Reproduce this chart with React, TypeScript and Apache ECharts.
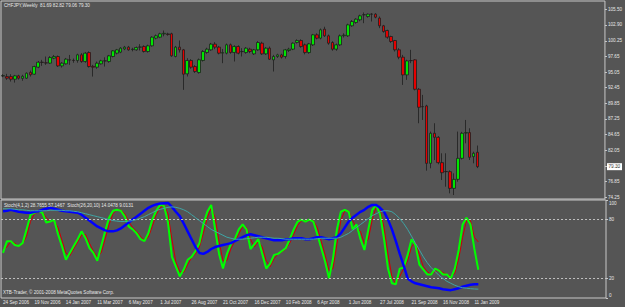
import React, { useEffect, useRef } from 'react';
import * as echarts from 'echarts';

const opens = [94.40,94.30,94.30,93.86,94.42,94.00,94.03,95.00,94.70,95.86,96.70,96.60,96.53,97.36,97.64,96.08,96.42,97.10,97.00,96.97,97.92,96.80,98.30,96.00,95.86,96.42,96.92,96.80,97.64,98.20,98.36,98.90,99.20,98.80,98.75,99.20,99.31,98.47,99.42,100.70,100.86,101.40,101.40,101.42,97.64,99.20,98.75,94.75,96.98,95.97,94.97,96.98,98.31,98.75,99.70,99.20,98.20,98.20,99.59,98.31,99.31,98.45,98.30,98.86,98.08,98.75,99.86,98.08,99.03,97.08,97.64,97.91,97.64,98.64,98.86,99.97,100.30,99.58,98.30,99.58,101.25,100.69,102.19,101.08,99.97,98.86,99.58,101.10,101.08,102.75,103.30,103.75,104.60,104.30,104.69,104.69,104.03,102.75,101.97,100.97,100.30,98.75,97.53,94.58,96.97,97.08,92.19,89.30,89.41,79.86,84.86,84.19,79.97,78.50,78.47,75.69,77.19,80.69,84.90,84.97,80.97,81.69];
const highs = [94.70,94.75,94.69,94.58,94.60,94.60,95.00,95.30,96.10,96.90,97.08,97.64,97.70,97.90,97.80,96.70,97.40,97.90,97.30,98.10,98.20,98.40,98.50,96.25,96.80,97.10,97.50,97.90,98.70,98.90,99.20,99.40,99.40,99.10,99.30,99.70,99.50,99.60,101.00,101.30,101.60,101.97,101.60,101.60,99.40,100.31,98.90,97.36,97.20,96.20,97.30,98.70,99.10,99.90,100.03,99.40,98.90,99.80,99.80,99.50,99.50,99.03,99.20,99.10,98.90,100.20,100.10,99.20,99.30,97.91,98.10,98.10,98.90,99.10,100.00,100.50,100.50,99.80,99.90,101.40,101.50,102.30,102.60,101.30,100.20,99.80,101.30,101.50,103.10,103.70,104.00,104.60,104.97,104.80,104.86,104.86,104.30,102.90,102.10,101.10,100.40,99.03,97.91,97.10,98.75,97.20,92.40,91.25,89.60,85.14,86.53,84.40,81.53,81.53,78.70,78.19,85.14,85.10,87.08,85.69,81.80,82.82];
const lows = [94.20,93.75,93.47,93.30,93.80,93.60,93.90,94.30,94.60,95.70,96.08,96.25,96.40,97.20,95.90,95.80,96.30,96.25,96.60,96.60,96.60,96.60,95.80,94.30,95.60,96.30,95.97,96.60,97.50,98.00,98.20,98.70,98.60,98.50,98.60,98.64,98.30,98.30,99.30,100.50,100.70,101.00,101.10,97.60,97.50,98.30,92.09,94.31,95.60,94.90,94.80,96.80,98.10,98.60,98.86,98.00,96.53,98.00,98.10,96.81,98.00,97.64,98.10,98.20,97.90,98.60,97.90,97.90,97.08,95.14,97.40,97.30,97.30,98.40,98.70,99.80,99.10,98.00,98.10,99.40,100.50,100.50,100.90,99.60,98.60,98.60,99.40,100.80,100.90,102.60,103.10,103.50,103.19,104.10,103.47,104.00,102.36,101.60,100.60,99.90,98.47,97.19,92.91,93.75,96.53,92.00,86.53,87.08,78.64,79.03,80.41,79.70,77.08,75.97,74.86,74.58,76.80,80.50,83.19,80.41,79.86,79.06];
const closes = [94.45,94.03,93.86,94.42,94.03,94.35,94.86,94.60,95.97,96.69,96.65,96.55,97.47,97.64,96.08,96.53,97.20,97.05,96.98,97.92,96.80,98.20,95.97,95.86,96.53,96.92,96.90,97.75,98.58,98.75,99.03,99.20,98.75,98.86,99.14,99.22,98.47,99.42,100.86,101.09,101.42,101.50,101.30,97.75,99.20,98.75,94.70,96.98,95.86,95.14,97.09,98.47,98.86,99.70,99.20,98.20,98.30,99.59,98.31,99.31,98.20,98.47,99.03,98.47,98.75,99.97,98.08,99.03,97.19,97.64,97.91,97.53,98.75,98.86,99.86,100.30,99.30,98.30,99.75,101.25,100.69,102.08,101.08,99.86,98.86,99.58,101.08,101.20,102.91,103.47,103.86,104.41,104.58,104.69,104.68,104.19,102.75,101.80,100.86,100.14,98.75,97.53,94.58,96.91,96.95,92.19,89.19,89.28,79.86,84.86,84.19,79.97,78.30,78.47,75.69,77.19,80.69,84.86,84.97,80.86,81.53,79.30];

const stochFast = [46,58,58,54,53,56,70,85,87,89,87,77,78,80,65,53,39,46,53,60,68,61,51,46,38,53,68,82,89,90,89,83,73,70,66,60,58,66,80,89,95,94,77,42,32,22,29,39,42,48,56,75,88,95,70,45,30,45,55,60,70,75,70,50,55,60,45,30,35,44,45,48,51,60,70,78,80,78,80,78,65,51,37,20,40,70,88,90,88,70,75,60,49,70,90,95,85,60,30,15,14,30,31,44,60,54,34,29,24,24,30,28,24,24,20,30,49,75,82,75,50,28.77];
const stochFastSignal = [50,52,58,56,53,55,63,78,86,88,88,82,78,79,72,59,46,43,50,57,64,65,56,48,42,46,60,75,86,90,90,86,78,72,68,63,59,62,73,85,92,95,86,60,37,27,26,34,41,45,52,66,82,92,82,58,38,38,50,58,65,73,72,60,52,58,52,38,32,40,45,47,50,56,65,74,79,79,79,79,72,58,44,28,30,55,79,89,89,79,72,68,55,60,80,93,90,72,45,22,14,22,30,38,52,57,44,32,27,24,27,29,26,24,22,25,40,62,79,79,62,57.15];
const stochSlow = [88.6,89,90,89,88,87.5,87,87,88,88.5,90,91,92,91,90,89,88.5,88,87.5,87,85,82,79,76,73,71,69,68,68,69,71,74,77,80,83,86,89,92,94,95.5,96.4,96.8,97,93,88,83.5,76,68,60,52,46,45,47,50,52,53,54,55,56,58,60,62,64,65,64,63,62,61,60,59,59,59,60,60,61,61,61,60,60,61,62,62,61,60,61,62,66,72,78,82,85,88,90,93,95,95,92,88,80,70,58,45,33,20,17,15,14,13,12,11,10.5,10,9,8.5,8,9,10,11.5,12.5,13.5,14,14.05];
const stochSlowSignal = [91,91,91,90.5,90,90,89.5,89,89,89,89,89,89.5,89.5,89.5,89.5,89,89,88.5,88,87,86,85,84,83,82,81,80,79,78.5,78,78,78.5,79,80,81.5,83,85,87,89,90.5,91.5,92.5,93,92.5,91.5,90,88,85,82,79,76,73,70,68,66,64,62,61,60,60,60,60.5,61,61.5,62,62,62,61.5,61,61,60.5,60,60,60,60,60,60,60,60,60.5,61,61,61,61,61,62,64,66,69,72,75,78,81,84,86,88,89,89,88,85,81,76,70,63,56,49,42,36,31,27,23,20,17,15,13,11.5,10.5,10,9.5,9.2,9.01];

const dateLabels = ['24 Sep 2006','19 Nov 2006','14 Jan 2007','11 Mar 2007','6 May 2007','1 Jul 2007','26 Aug 2007','21 Oct 2007','16 Dec 2007','10 Feb 2008','6 Apr 2008','1 Jun 2008','27 Jul 2008','21 Sep 2008','16 Nov 2008','11 Jan 2009'];
const priceTicks = [105.50,102.90,100.25,97.65,95.05,92.45,89.85,87.25,84.65,82.05,79.45,76.85,74.25];
const stochTicks = [100,80,20,0];
const stochLevels = [80,20];
const lastPrice = 79.30;

const mainTitle = 'CHFJPY,Weekly  81.69 82.82 79.06 79.30';
const subTitle = 'Stoch(4,1,2) 28.7655 57.1467  Stoch(26,20,10) 14.0478 9.0131';
const copyright = 'XTB-Trader, \u00a9 2001-2008 MetaQuotes Software Corp.';

const TOTAL_SLOTS = 154;
const LABEL_STEP = 8;

export default function App() {
  const ref = useRef<HTMLDivElement>(null);
  useEffect(() => {
    if (!ref.current) return;
    const chart = echarts.init(ref.current, null, { renderer: 'svg' });
    const cats = Array.from({ length: TOTAL_SLOTS }, (_, i) => String(i));
    const font = 'Liberation Sans, Arial, sans-serif';
    const txt = '#e8e8e8';
    const frame = '#c8c8c8';
    const fs = 4.6;
    const candles = opens.map((o, i) => [o, closes[i], lows[i], highs[i]]);
    const baseGraphic = [
      { type: 'text', left: 4, top: 3, style: { text: mainTitle, fill: txt, fontSize: fs, fontFamily: font } },
      { type: 'text', left: 4, top: 203, style: { text: subTitle, fill: txt, fontSize: fs, fontFamily: font } },
      { type: 'text', left: 3, top: 290, style: { text: copyright, fill: txt, fontSize: fs, fontFamily: font } },
    ];
    chart.setOption({
      animation: false,
      backgroundColor: '#555555',
      grid: [
        { left: 1, right: 19, top: 1, height: 198, show: true, borderColor: frame, borderWidth: 1, backgroundColor: 'transparent' },
        { left: 1, right: 19, top: 200, height: 98, show: true, borderColor: frame, borderWidth: 1, backgroundColor: 'transparent' },
      ],
      xAxis: [
        { type: 'category', data: cats, gridIndex: 0, boundaryGap: true, axisLine: { show: false }, axisTick: { show: false }, axisLabel: { show: false }, splitLine: { show: false } },
        {
          type: 'category', data: cats, gridIndex: 1, boundaryGap: true,
          axisLine: { show: false }, axisTick: { show: false }, splitLine: { show: false },
          axisLabel: {
            show: true, interval: (idx: number) => idx % LABEL_STEP === 0 && idx / LABEL_STEP < dateLabels.length,
            formatter: (_v: string, idx: number) => dateLabels[idx / LABEL_STEP] ?? '',
            align: 'left', color: txt, fontSize: fs, fontFamily: font, margin: 2,
          },
        },
      ],
      yAxis: [
        {
          type: 'value', gridIndex: 0, position: 'right', min: 73.92, max: 106.88, scale: true,
          splitLine: { show: false }, axisLine: { show: false },
          axisTick: { show: true, length: 2, lineStyle: { color: frame }, customValues: priceTicks },
          axisLabel: { show: true, customValues: priceTicks, formatter: (v: number) => v.toFixed(2), color: txt, fontSize: fs, fontFamily: font, margin: 3 },
        },
        {
          type: 'value', gridIndex: 1, position: 'right', min: 0, max: 100,
          splitLine: { show: false }, axisLine: { show: false },
          axisTick: { show: true, length: 2, lineStyle: { color: frame }, customValues: stochTicks },
          axisLabel: {
            show: true, customValues: stochTicks,
            formatter: (v: number) => (v === 100 ? '{t|100}' : v === 0 ? '{b|0}' : String(v)),
            rich: { t: { padding: [7, 0, 0, 0], fontSize: fs, color: txt, fontFamily: font }, b: { padding: [0, 0, 6, 0], fontSize: fs, color: txt, fontFamily: font } },
            color: txt, fontSize: fs, fontFamily: font, margin: 3,
          },
        },
      ],
      series: [
        {
          type: 'candlestick', xAxisIndex: 0, yAxisIndex: 0, data: candles, barWidth: 3.2,
          itemStyle: { color: '#00e600', color0: '#e60000', borderColor: '#1e1e1e', borderColor0: '#1e1e1e', borderWidth: 0.8 },
        },
        {
          type: 'line', xAxisIndex: 1, yAxisIndex: 1, data: stochFast, showSymbol: false, symbol: 'none',
          lineStyle: { color: '#00ff00', width: 2 }, z: 3,
          markLine: {
            silent: true, symbol: 'none', animation: false, label: { show: false },
            lineStyle: { color: '#c0c0c0', type: [2, 2], width: 1 },
            data: stochLevels.map((v) => ({ yAxis: v })),
          },
        },
        { type: 'line', xAxisIndex: 1, yAxisIndex: 1, data: stochFastSignal, showSymbol: false, symbol: 'none', lineStyle: { color: '#d00000', width: 1 }, z: 2 },
        { type: 'line', xAxisIndex: 1, yAxisIndex: 1, data: stochSlow, showSymbol: false, symbol: 'none', lineStyle: { color: '#0000ff', width: 2.5 }, z: 4 },
        { type: 'line', xAxisIndex: 1, yAxisIndex: 1, data: stochSlowSignal, showSymbol: false, symbol: 'none', lineStyle: { color: '#3fa5a5', width: 1 }, z: 5 },
      ],
      graphic: baseGraphic,
    });
    const py = chart.convertToPixel({ yAxisIndex: 0 }, lastPrice) as number;
    chart.setOption({
      graphic: [
        ...baseGraphic,
        {
          type: 'group', left: 607, top: py - 3.5, z: 100,
          children: [
            { type: 'rect', shape: { x: 0, y: 0, width: 15, height: 7 }, style: { fill: '#ffffff' } },
            { type: 'text', x: 1.5, y: 3.5, style: { text: lastPrice.toFixed(2), fill: '#000000', fontSize: fs, fontFamily: font, verticalAlign: 'middle' } },
          ],
        },
      ],
    });
    return () => chart.dispose();
  }, []);
  return <div ref={ref} style={{ width: 625, height: 307, position: 'absolute', left: 0, top: 0 }} />;
}
